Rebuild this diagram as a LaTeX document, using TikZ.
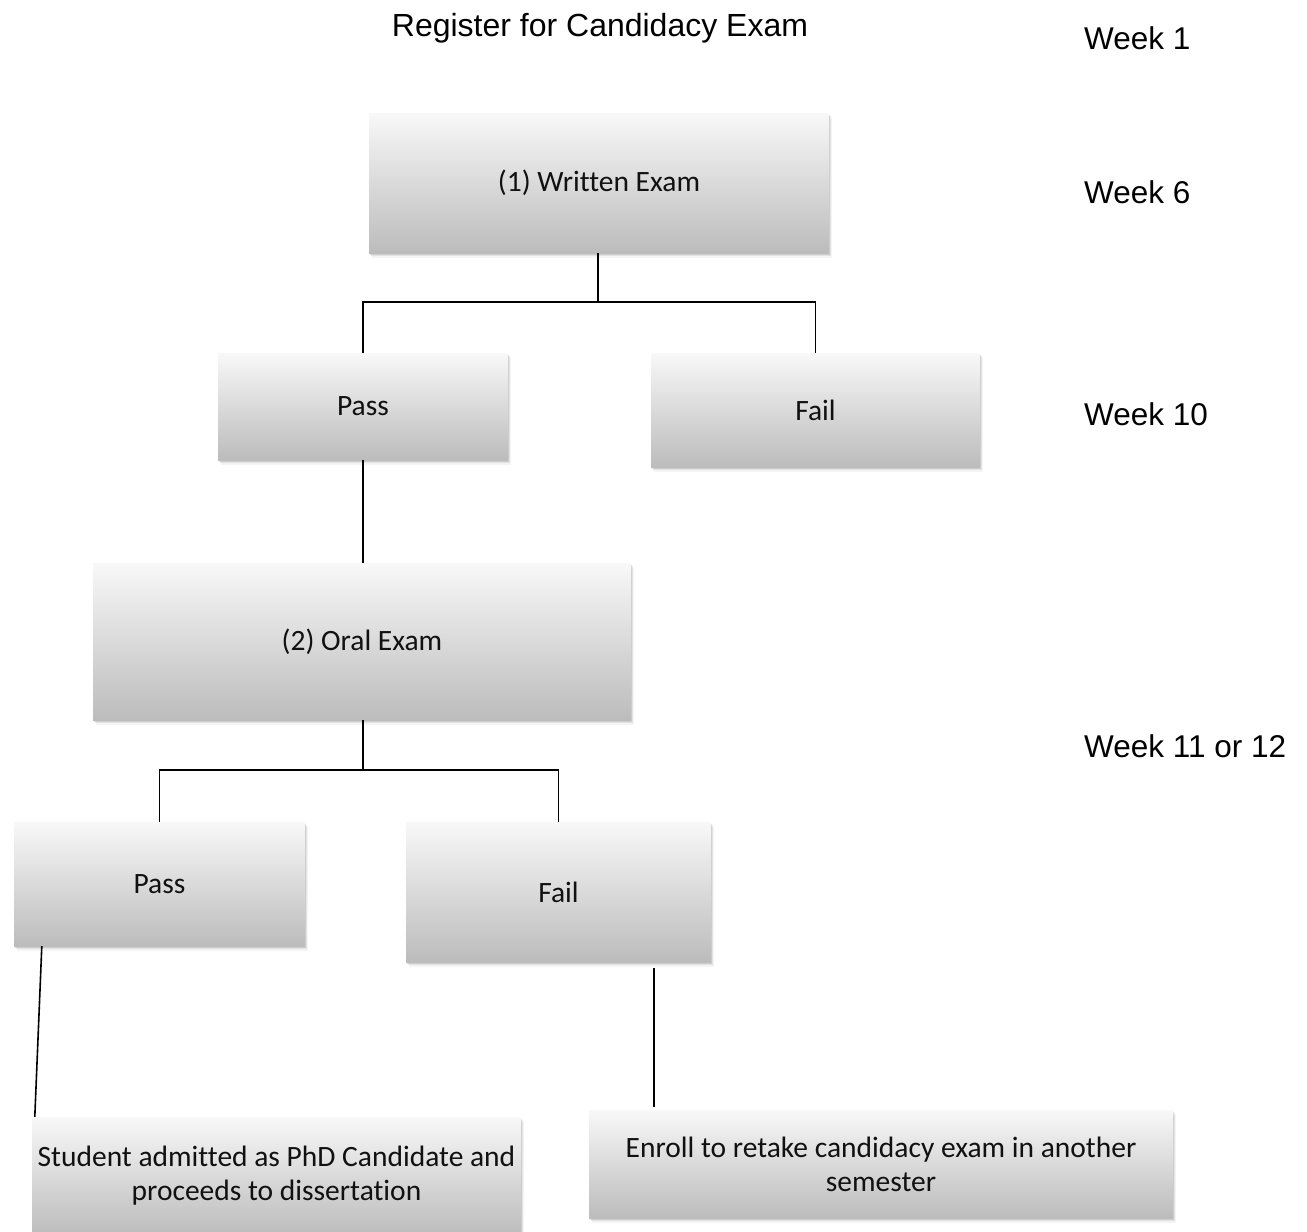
\documentclass[tikz,border=0pt]{standalone}
\usepackage{fontspec}
\setmainfont{Liberation Sans}
\newfontfamily\boxfont[Ligatures=NoCommon]{Carlito}
\usetikzlibrary{shadows}

\definecolor{boxtop}{HTML}{F8F8F8}
\definecolor{boxbot}{HTML}{BCBCBC}
\definecolor{boxtext}{HTML}{111111}

\begin{document}
\begin{tikzpicture}[
  x=1pt, y=-1pt,
  softshadow/.style={
    drop shadow={shadow xshift=1pt, shadow yshift=-1.5pt, opacity=0.18, fill=black!60},
    drop shadow={shadow xshift=2pt, shadow yshift=-3pt, opacity=0.12, fill=black!60},
    drop shadow={shadow xshift=3pt, shadow yshift=-5pt, opacity=0.07, fill=black!60}},
  box/.style={rectangle, inner sep=0pt, draw=none,
    top color=boxtop, bottom color=boxbot, softshadow,
    font=\boxfont\fontsize{29.5}{34}\selectfont, text=boxtext, align=center},
  label/.style={font=\fontsize{31.5}{38}\selectfont, anchor=base west, inner sep=0pt},
  link/.style={line width=1.6pt, draw=black}
]
\useasboundingbox (0,0) rectangle (1307,1232);

% heading and time line
\node[font=\fontsize{32}{38}\selectfont, anchor=base, inner sep=0pt] (title) at (600,36) {Register for Candidacy Exam};
\node[label] (wk1)  at (1084,49)  {Week 1};
\node[label] (wk6)  at (1084,203) {Week 6};
\node[label] (wk10) at (1084,425) {Week 10};
\node[label] (wk11) at (1084,757) {Week 11 or 12};

% stages
\node[box, minimum width=460pt, minimum height=140pt] (written) at (599,183)   {(1) Written Exam};
\node[box, minimum width=290pt, minimum height=107pt] (pass1)   at (363,406.5) {Pass};
\node[box, minimum width=329pt, minimum height=114pt] (fail1)   at (815.5,410) {Fail};
\node[box, minimum width=538pt, minimum height=157pt] (oral)    at (362,641.5) {(2) Oral Exam};
\node[box, minimum width=291pt, minimum height=124pt] (pass2)   at (159.5,884) {Pass};
\node[box, minimum width=305pt, minimum height=140pt] (fail2)   at (558.5,892) {Fail};
\node[box, minimum width=489pt, minimum height=118pt] (admit)   at (276.5,1176)
  {Student admitted as PhD Candidate and\\proceeds to dissertation};
\node[box, minimum width=584pt, minimum height=108pt] (retake)  at (881,1164)
  {Enroll to retake candidacy exam in another\\semester};

% branch points
\coordinate (j1) at (598,302);
\coordinate (j2) at (363,770);

% connectors
\draw[link] (written.south -| j1) -- (j1);
\draw[link] (pass1.north) |- (j1) -| (fail1.north);
\draw[link] (pass1.south) -- (pass1.south |- oral.north);
\draw[link] (oral.south -| j2) -- (j2);
\draw[link] (pass2.north) |- (j2) -| (fail2.north);
\draw[link] ([xshift=28pt]pass2.south west) -- ([xshift=3pt]admit.north west);
\draw[link] ([xshift=248pt,yshift=-6pt]fail2.south west) -- ([xshift=65pt,yshift=3pt]retake.north west);
\end{tikzpicture}
\end{document}
